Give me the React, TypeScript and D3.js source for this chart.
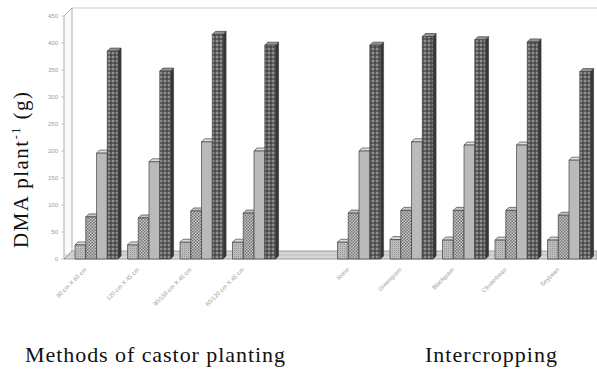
import React from "react";
import * as d3 from "d3";

const castorLabels = ["90 cm X 60 cm", "120 cm X 45 cm", "90/150 cm X 45 cm", "60/120 cm X 45 cm"];
const intercropLabels = ["None", "Greengram", "Blackgram", "Clusterbean", "Soybean"];
const slots = [...castorLabels, "__gap__", ...intercropLabels];

const seriesKeys = ["s1", "s2", "s3", "s4"];
// values for slots (castor 4, gap, intercrop 5)
const s1Values = [26, 26, 31, 31, null, 31, 36, 35, 35, 35];
const s2Values = [78, 76, 89, 85, null, 85, 90, 90, 90, 81];
const s3Values = [196, 180, 217, 200, null, 200, 217, 211, 211, 183];
const s4Values = [385, 348, 416, 396, null, 396, 412, 406, 402, 347];
const seriesValues = [s1Values, s2Values, s3Values, s4Values];
const yTicks = [0, 50, 100, 150, 200, 250, 300, 350, 400, 450];

const W = 597;
const H = 369;
const DX = 3;
const DY = -3;

export default function App() {
  const y = d3.scaleLinear().domain([0, 450]).range([259, 16]);
  const x = d3
    .scaleBand<string>()
    .domain(slots)
    .range([65.55, 600])
    .paddingInner(0.18)
    .paddingOuter(0.18);
  const xi = d3.scaleBand<string>().domain(seriesKeys).range([0, x.bandwidth()]);

  const fills = ["url(#p1)", "url(#p2)", "url(#p3)", "url(#p4)"];
  const sides = ["#808080", "#666", "#8a8a8a", "#353535"];
  const tops = ["#dadada", "#c4c4c4", "#e0e0e0", "#949494"];

  const bars: React.ReactNode[] = [];
  slots.forEach((slot, si) => {
    seriesKeys.forEach((k, ki) => {
      const v = seriesValues[ki][si];
      if (v == null) return;
      const x0 = (x(slot) as number) + (xi(k) as number);
      const w = xi.bandwidth();
      const yt = y(v);
      const yb = y(0);
      bars.push(
        <g key={`${slot}-${k}`} stroke="#444" strokeWidth={0.7} strokeLinejoin="round">
          <polygon
            points={`${x0 + w},${yt} ${x0 + w + DX},${yt + DY} ${x0 + w + DX},${yb + DY} ${x0 + w},${yb}`}
            fill={sides[ki]}
          />
          <polygon
            points={`${x0},${yt} ${x0 + DX},${yt + DY} ${x0 + w + DX},${yt + DY} ${x0 + w},${yt}`}
            fill={tops[ki]}
          />
          <rect x={x0} y={yt} width={w} height={yb - yt} fill={fills[ki]} />
        </g>
      );
    });
  });

  const serif = "'Liberation Serif', 'DejaVu Serif', serif";

  return (
    <svg
      width={W}
      height={H}
      viewBox={`0 0 ${W} ${H}`}
      style={{ position: "absolute", left: 0, top: 0, background: "#fff" }}
    >
      <defs>
        <pattern id="p1" width="2" height="2" patternUnits="userSpaceOnUse">
          <rect width="2" height="2" fill="#bcbcbc" />
          <rect width="1" height="1" fill="#999" />
        </pattern>
        <pattern id="p2" width="3" height="3" patternUnits="userSpaceOnUse">
          <rect width="3" height="3" fill="#c8c8c8" />
          <rect width="1.5" height="1.5" fill="#747474" />
          <rect x="1.5" y="1.5" width="1.5" height="1.5" fill="#747474" />
        </pattern>
        <pattern id="p3" width="4" height="4" patternUnits="userSpaceOnUse">
          <rect width="4" height="4" fill="#bababa" />
        </pattern>
        <pattern id="p4" width="4" height="4" patternUnits="userSpaceOnUse">
          <rect width="4" height="4" fill="#606060" />
          <rect width="2" height="2" fill="#909090" />
          <rect x="2" y="2" width="2" height="2" fill="#4a4a4a" />
        </pattern>
      </defs>

      {/* walls */}
      <polygon points={`64,${y(450)} 72,${y(450) - 8} 72,${y(0) - 8} 64,${y(0)}`} fill="#fafafa" stroke="#9a9a9a" strokeWidth={0.8} />
      <line x1={72} y1={y(450) - 8} x2={W} y2={y(450) - 8} stroke="#cacaca" strokeWidth={1} />
      {/* floor */}
      <polygon points={`64,${y(0)} 72,${y(0) - 8} ${W},${y(0) - 8} ${W},${y(0)}`} fill="#d6d6d6" stroke="#8a8a8a" strokeWidth={0.8} />
      <line x1={64} y1={y(0) - 4} x2={W} y2={y(0) - 4} stroke="#b4b4b4" strokeWidth={0.6} />

      {/* y ticks */}
      {yTicks.map((t) => (
        <g key={t}>
          <line x1={61} x2={64} y1={y(t)} y2={y(t)} stroke="#aaa" strokeWidth={0.6} />
          <text x={58} y={y(t) + 2} fontSize={6} fill="#9a9a9a" textAnchor="end" fontFamily="'Liberation Sans', sans-serif">
            {t}
          </text>
        </g>
      ))}

      {bars}

      {/* category labels */}
      {slots.map((s) =>
        s === "__gap__" ? null : (
          <text
            key={s}
            transform={`translate(${(x(s) as number) + 12},${270}) rotate(-45)`}
            fontSize={6}
            fill="#a0a0a0"
            textAnchor="end"
            fontFamily="'Liberation Sans', sans-serif"
          >
            {s}
          </text>
        )
      )}

      {/* axis titles */}
      <text
        transform="translate(28,248) rotate(-90)"
        fontSize={21}
        fontFamily={serif}
        fill="#111"
        textLength={156}
        lengthAdjust="spacing"
      >
        DMA plant<tspan fontSize={12} dy={-8}>-1</tspan>
        <tspan dy={8}> (g)</tspan>
      </text>
      <text x={25} y={362} fontSize={22} fontFamily={serif} fill="#111" textLength={260} lengthAdjust="spacing">
        Methods of castor planting
      </text>
      <text x={425} y={362} fontSize={22} fontFamily={serif} fill="#111" textLength={132} lengthAdjust="spacing">
        Intercropping
      </text>
    </svg>
  );
}
